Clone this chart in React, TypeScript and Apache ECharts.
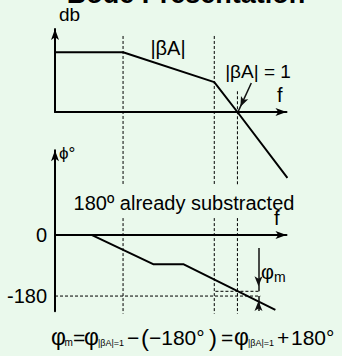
import React, { useEffect, useRef } from 'react';
import * as echarts from 'echarts';

const FONT = 'Arial, "Liberation Sans", Helvetica, sans-serif';

// Shared log-frequency axis (arbitrary units)
const freqMin = 0;
const freqMax = 100;

// Magnitude plot, asymptotic |βA| in dB (arbitrary units)
const magMin = 0;
const magMax = 100;
const magFreq = [0, 29.4, 68.8, 78.8, 100.4];
const magDb = [72, 72, 36, 0, -79.5];

// Phase plot in degrees (180° already subtracted)
const phaseMin = -225;
const phaseMax = 250;
const phaseStep = 5;
const phaseTickLabels = [0, -180];
const phaseFreq = [0, 16, 42.4, 55.4, 95.2];
const phaseDeg = [0, 0, -86, -86, -221];

// Break frequencies and the |βA| = 1 crossover
const breakFreqs = [29.4, 68.8];
const crossoverFreq = 78.8;
const crossoverPhase = -166;
const referencePhase = -180;
const marginFreq = 87.9;
const marginTop = -38;
const marginBottom = -224;
const refLineEnd = 88.7;
const levelLineStart = 69.3;

// Extents of the dashed frequency guides
const guideMagTop = 91.6;
const guideMagBottom = -88;
const crossGuideMagTop = 25;
const guidePhaseTop = 50;
const guidePhaseBottom = -232;

// Pointer from the |βA| = 1 note to the crossover
const noteFrom = [84.8, 34.9];
const noteTo = [79.2, 1];

// Phase-margin formula, laid out piece by piece (x = left edge)
const formulaPieces: { t: string; x: number; kind: 'phi' | 'main' | 'sub' | 'paren' }[] = [
  { t: 'φ', x: 51, kind: 'phi' },
  { t: 'm', x: 64.5, kind: 'sub' },
  { t: '=', x: 73, kind: 'main' },
  { t: 'φ', x: 84, kind: 'phi' },
  { t: '|βA|=1', x: 98, kind: 'sub' },
  { t: '−', x: 127, kind: 'main' },
  { t: '(', x: 141, kind: 'paren' },
  { t: '−180°', x: 149, kind: 'main' },
  { t: ')', x: 209, kind: 'paren' },
  { t: '=', x: 221, kind: 'main' },
  { t: 'φ', x: 234, kind: 'phi' },
  { t: '|βA|=1', x: 248, kind: 'sub' },
  { t: '+', x: 277, kind: 'main' },
  { t: '180°', x: 291, kind: 'main' },
];

const zip = (xs: number[], ys: number[]) => xs.map((x, i) => [x, ys[i]]);

const dash = (idx: number, pts: number[][]) => ({
  type: 'line',
  xAxisIndex: idx,
  yAxisIndex: idx,
  data: pts,
  symbol: 'none',
  clip: false,
  silent: true,
  z: 1,
  lineStyle: { color: '#000', width: 1, type: [3, 2] },
});

// Solid pointer lines with an arrowhead whose tip sits on the end coordinate
const arrowLines = (idx: number, segs: number[][][]) => ({
  type: 'line',
  xAxisIndex: idx,
  yAxisIndex: idx,
  data: [],
  symbol: 'none',
  clip: false,
  silent: true,
  markLine: {
    silent: true,
    animation: false,
    symbol: ['none', 'arrow'],
    label: { show: false },
    emphasis: { disabled: true },
    lineStyle: { color: '#111', width: 1.5, type: 'solid' },
    data: segs.map(([a, b]) => [
      { coord: a, symbol: 'none' },
      { coord: b, symbol: 'arrow', symbolSize: [6, 10], symbolOffset: [0, 5] },
    ]),
  },
});

const axisLine = {
  show: true,
  onZero: true,
  symbol: ['none', 'arrow'],
  symbolSize: [6, 11],
  lineStyle: { color: '#000', width: 2 },
};

const label = (text: string, x: number, y: number, size: number, align = 'left', weight = 'normal') => ({
  type: 'text',
  x,
  y,
  silent: true,
  style: {
    text,
    font: `${weight} ${size}px ${FONT}`,
    fill: '#000',
    align,
    verticalAlign: 'middle',
  },
});

export default function App() {
  const ref = useRef<HTMLDivElement>(null);

  useEffect(() => {
    if (!ref.current) return;
    const chart = echarts.init(ref.current, undefined, { renderer: 'svg' });

    const xAxisBase = (gridIndex: number) => ({
      type: 'value',
      gridIndex,
      min: freqMin,
      max: freqMax,
      axisLine,
      axisTick: { show: false },
      axisLabel: { show: false },
      splitLine: { show: false },
    });

    const formula = formulaPieces.map((p) => {
      if (p.kind === 'sub') return label(p.t, p.x, 342.5, p.t === 'm' ? 10 : 9);
      if (p.kind === 'paren') return label(p.t, p.x, 337, 24);
      if (p.kind === 'phi') return label(p.t, p.x, 337, 23);
      return label(p.t, p.x, 337.5, 21);
    });

    chart.setOption({
      animation: false,
      backgroundColor: '#EAF9EC',
      textStyle: { fontFamily: FONT },
      grid: [
        { left: 55, top: 29, width: 231.5, height: 83, outerBoundsMode: 'none' },
        { left: 55, top: 150.3, width: 231.5, height: 161, outerBoundsMode: 'none' },
      ],
      xAxis: [xAxisBase(0), xAxisBase(1)],
      yAxis: [
        {
          type: 'value',
          gridIndex: 0,
          min: magMin,
          max: magMax,
          axisLine,
          axisTick: { show: false },
          axisLabel: { show: false },
          splitLine: { show: false },
        },
        {
          type: 'value',
          gridIndex: 1,
          min: phaseMin,
          max: phaseMax,
          interval: phaseStep,
          axisLine,
          axisTick: { show: false },
          splitLine: { show: false },
          axisLabel: {
            show: true,
            interval: 0,
            margin: 8,
            fontSize: 20,
            color: '#000',
            fontFamily: FONT,
            formatter: (v: number) => (phaseTickLabels.includes(v) ? String(v) : ''),
          },
        },
      ],
      series: [
        {
          type: 'line',
          xAxisIndex: 0,
          yAxisIndex: 0,
          data: zip(magFreq, magDb),
          symbol: 'none',
          clip: false,
          silent: true,
          z: 3,
          lineStyle: { color: '#000', width: 2 },
        },
        ...breakFreqs.map((f) => dash(0, [[f, guideMagTop], [f, guideMagBottom]])),
        dash(0, [[crossoverFreq, crossGuideMagTop], [crossoverFreq, guideMagBottom]]),
        {
          type: 'line',
          xAxisIndex: 1,
          yAxisIndex: 1,
          data: zip(phaseFreq, phaseDeg),
          symbol: 'none',
          clip: false,
          silent: true,
          z: 3,
          lineStyle: { color: '#000', width: 2 },
        },
        ...[...breakFreqs, crossoverFreq].map((f) =>
          dash(1, [[f, guidePhaseTop], [f, guidePhaseBottom]])
        ),
        dash(1, [[freqMin, referencePhase], [refLineEnd, referencePhase]]),
        dash(1, [[levelLineStart, crossoverPhase], [refLineEnd, crossoverPhase]]),
        arrowLines(0, [[noteFrom, noteTo]]),
        arrowLines(1, [
          [[marginFreq, marginTop], [marginFreq, crossoverPhase]],
          [[marginFreq, marginBottom], [marginFreq, referencePhase]],
        ]),
      ],
      graphic: [
        label('Bode Presentation', 186, -6, 27, 'center', 'bold'),
        label('db', 59, 14, 19),
        label('|βA|', 168, 48, 20, 'center'),
        label('|βA| = 1', 258, 71, 19, 'center'),
        label('f', 277, 95, 20),
        label('ϕ°', 59, 153, 17),
        label('180º already substracted', 184, 203, 20, 'center'),
        label('f', 274, 218, 20),
        {
          type: 'text',
          x: 261,
          y: 272,
          silent: true,
          style: {
            text: '{p|φ}{s|m}',
            fill: '#000',
            align: 'left',
            verticalAlign: 'middle',
            rich: {
              p: { fontSize: 20, fontFamily: FONT, lineHeight: 24 },
              s: { fontSize: 14, fontFamily: FONT, lineHeight: 14, verticalAlign: 'bottom' },
            },
          },
        },
        ...formula,
      ],
    });

    return () => chart.dispose();
  }, []);

  return (
    <div
      ref={ref}
      style={{ position: 'fixed', left: 0, top: 0, width: 342, height: 356 }}
    />
  );
}
